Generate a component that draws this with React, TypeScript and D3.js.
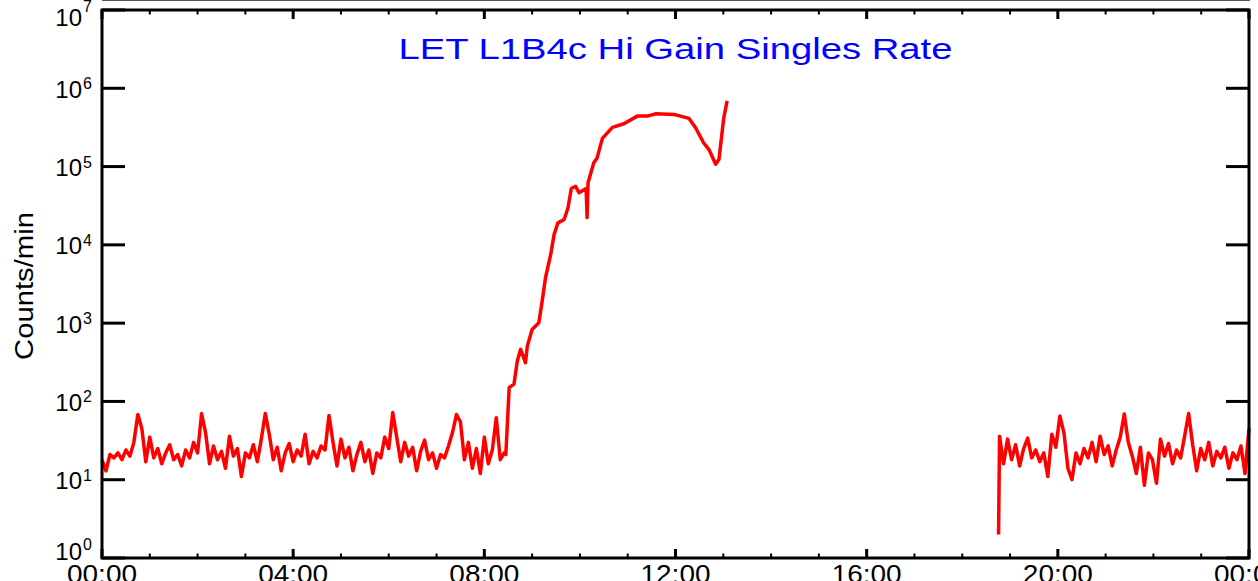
import React from 'react';
import * as d3 from 'd3';

const W = 1258;
const H = 581;

const titleText = 'LET L1B4c Hi Gain Singles Rate';
const yLabelText = 'Counts/min';
const yTickExponents = [0, 1, 2, 3, 4, 5, 6, 7];
const xTickHours = [0, 4, 8, 12, 16, 20, 24];
const xTickLabels = ['00:00', '04:00', '08:00', '12:00', '16:00', '20:00', '00:00'];
const xMinorHours = [1, 2, 3, 5, 6, 7, 9, 10, 11, 13, 14, 15, 17, 18, 19, 21, 22, 23];

// Segment 1: quiet background, 5-minute samples from 00:00
const seg1BaseStepMin = 5;
const seg1BaseCounts = [
  18, 13, 21, 19, 22, 18, 24, 20, 30,
  68, 45, 17, 35, 19, 25, 16, 22, 28, 18, 21, 15, 24, 19, 30, 22,
  70, 40, 16, 27, 18, 23, 14, 36, 20, 25, 11, 22, 19, 28, 17, 33,
  70, 38, 18, 26, 13, 22, 29, 17, 24, 20, 38, 16, 23, 19, 27, 24,
  66, 30, 15, 33, 19, 26, 13, 21, 30, 17, 24, 12, 22, 19, 35, 25,
  72, 35, 17, 30, 20, 26, 13, 23, 32, 18, 22, 14, 21, 19, 27, 40,
  68, 55, 18, 30, 14, 25, 12, 35, 16, 24,
  62, 18, 22,
];

// Segment 1: the event rise (hours, counts)
const seg1RiseHours = [
  8.45, 8.52, 8.62, 8.69, 8.76, 8.86, 8.9, 9.0, 9.14, 9.21, 9.28, 9.39, 9.46, 9.54,
  9.67, 9.75, 9.82, 9.91, 9.98, 10.13, 10.15, 10.17, 10.29, 10.36, 10.47, 10.68,
  10.92, 11.2, 11.41, 11.58, 11.97, 12.28, 12.42, 12.59, 12.7, 12.84, 12.91, 13.01, 13.08,
];
const seg1RiseCounts = [
  21, 150, 166, 328, 463, 312, 510, 830, 1010, 1910, 3800, 7600, 13600, 19100,
  21100, 29600, 52400, 56000, 46300, 52400, 22300, 62000, 112000, 129000, 229000, 317000,
  352000, 441000, 441000, 472000, 464000, 413000, 313000, 200000, 165000, 107000, 124000, 420000, 690000,
];

// Segment 2: after the data gap
const seg2StartHour = 18.76;
const seg2StartCount = 2;
const seg2NoiseStartHour = 18.78;
const seg2NoiseEndHour = 24.0;
const seg2Counts = [
  36, 16, 33, 18, 28, 15, 25, 34, 19, 24,
  17, 22, 11, 38, 26, 65, 40, 14, 10, 22,
  16, 25, 19, 30, 17, 36, 21, 27, 15, 24,
  35, 69, 30, 20, 12, 26, 8.5, 22, 18, 9,
  33, 20, 29, 16, 24, 19, 36, 70, 28, 13,
  25, 18, 30, 15, 23, 19, 26, 14, 22, 18,
  27, 12, 45,
];

const FONT = '"Liberation Sans", Arial, Helvetica, sans-serif';

export default function App() {
  const x0 = 102, x1 = 1249, yT = 10, yB = 558;
  const x = d3.scaleLinear().domain([0, 24]).range([x0, x1]);
  const y = d3.scaleLog().domain([1, 1e7]).range([yB, yT]);

  const seg1: [number, number][] = [
    ...seg1BaseCounts.map((c, i) => [(i * seg1BaseStepMin) / 60, c] as [number, number]),
    ...seg1RiseHours.map((h, i) => [h, seg1RiseCounts[i]] as [number, number]),
  ];
  const step2 = (seg2NoiseEndHour - seg2NoiseStartHour) / (seg2Counts.length - 1);
  const seg2: [number, number][] = [
    [seg2StartHour, seg2StartCount],
    ...seg2Counts.map((c, i) => [seg2NoiseStartHour + i * step2, c] as [number, number]),
  ];
  const line = d3.line<[number, number]>().x((d) => x(d[0])).y((d) => y(d[1]));

  const labelPos = (e: number) => {
    const ty = y(Math.pow(10, e));
    if (e === 7) return { base: 26, sup: 12 };
    if (e === 0) return { base: 560, sup: 550 };
    return { base: ty + 9.5, sup: ty + 1 };
  };

  return (
    <svg width={W} height={H} style={{ position: 'fixed', left: 0, top: 0, background: '#fff' }}>
      <rect x={0} y={0} width={W} height={H} fill="#fff" />
      <line x1={x0} x2={x1 + 1} y1={0.5} y2={0.5} stroke="#555" strokeWidth={1} />

      <path d={line(seg1) || ''} fill="none" stroke="#ff0000" strokeWidth={3.5} strokeLinejoin="round" />
      <path d={line(seg2) || ''} fill="none" stroke="#ff0000" strokeWidth={3.5} strokeLinejoin="round" />

      {/* frame */}
      <rect x={x0} y={yT} width={x1 - x0} height={yB - yT} fill="none" stroke="#000" strokeWidth={3} />

      {/* y ticks */}
      {yTickExponents.map((e) => {
        const ty = y(Math.pow(10, e));
        return (
          <g key={'yt' + e}>
            <line x1={x0} x2={x0 + 23} y1={ty} y2={ty} stroke="#000" strokeWidth={3} />
            <line x1={x1 - 23} x2={x1} y1={ty} y2={ty} stroke="#000" strokeWidth={3} />
          </g>
        );
      })}
      {/* x ticks */}
      {xTickHours.map((h) => (
        <g key={'xt' + h}>
          <line x1={x(h)} x2={x(h)} y1={yB} y2={yB - 9} stroke="#000" strokeWidth={3} />
          <line x1={x(h)} x2={x(h)} y1={yT} y2={yT + 9} stroke="#000" strokeWidth={3} />
        </g>
      ))}
      {xMinorHours.map((h) => (
        <g key={'xm' + h}>
          <line x1={x(h)} x2={x(h)} y1={yB} y2={yB - 4.5} stroke="#000" strokeWidth={2} />
          <line x1={x(h)} x2={x(h)} y1={yT} y2={yT + 4.5} stroke="#000" strokeWidth={2} />
        </g>
      ))}

      {/* y tick labels */}
      {yTickExponents.map((e) => {
        const p = labelPos(e);
        return (
          <g key={'yl' + e} fontFamily={FONT} fill="#000">
            <text x={82} y={p.base} fontSize={24} textAnchor="end">10</text>
            <text x={83} y={p.sup} fontSize={16}>{String(e)}</text>
          </g>
        );
      })}

      {/* x tick labels */}
      {xTickHours.map((h, i) => (
        <text key={'xl' + h} x={x(h)} y={583} fontSize={25} fontFamily={FONT} textAnchor="middle"
          textLength={70} lengthAdjust="spacingAndGlyphs">
          {xTickLabels[i]}
        </text>
      ))}

      {/* title */}
      <text x={(x0 + x1) / 2} y={58.5} fontSize={30} fontFamily={FONT} fill="#0000ff" textAnchor="middle"
        textLength={554} lengthAdjust="spacingAndGlyphs">
        {titleText}
      </text>

      {/* y label */}
      <text transform="translate(33,286) rotate(-90)" fontSize={26} fontFamily={FONT} textAnchor="middle"
        textLength={148} lengthAdjust="spacingAndGlyphs">
        {yLabelText}
      </text>
    </svg>
  );
}
